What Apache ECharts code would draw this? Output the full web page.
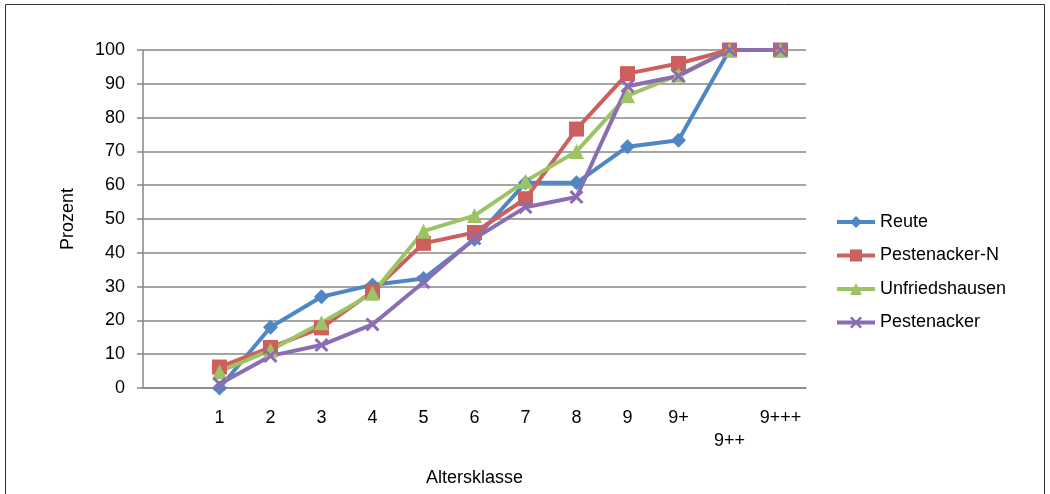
<!DOCTYPE html>
<html><head><meta charset="utf-8">
<script src="https://cdn.jsdelivr.net/npm/echarts@6/dist/echarts.min.js"></script>
<style>html,body{margin:0;padding:0;background:#fff}#c{width:1050px;height:494px}</style>
</head><body><div id="c"></div>
<script>
const categories = ["", "1", "2", "3", "4", "5", "6", "7", "8", "9", "9+", "9++", "9+++"];
const reute = [null, 0, 18, 27, 30.5, 32.4, 44, 60.7, 60.7, 71.4, 73.3, 100, 100];
const pestenackerN = [null, 6.2, 12, 17.8, 28.5, 42.8, 46, 56, 76.6, 93, 96, 100, 100];
const unfriedshausen = [null, 4.8, 11.2, 19.3, 28, 46.4, 51, 61.2, 70, 86.5, 92.6, 100, 100];
const pestenacker = [null, 1.2, 9.5, 12.7, 18.8, 31.3, 44.2, 53.5, 56.5, 89.3, 92.3, 100, 100];
const yTicks = [0, 10, 20, 30, 40, 50, 60, 70, 80, 90, 100];

const font = "Liberation Sans, Arial, sans-serif";
const FS = 18;
const xMark = 'path://M0,1.5L1.5,0L5,3.5L8.5,0L10,1.5L6.5,5L10,8.5L8.5,10L5,6.5L1.5,10L0,8.5L3.5,5Z';
function mk(name, data, color, symbol, size) {
  return {
    name, type: 'line', data, symbol, symbolSize: size, showAllSymbol: true,
    connectNulls: false,
    lineStyle: { color, width: 4 },
    itemStyle: { color },
    emphasis: { disabled: true }, animation: false
  };
}
const chart = echarts.init(document.getElementById('c'), null, { renderer: 'canvas' });
chart.setOption({
  animation: false,
  textStyle: { fontFamily: font },
  graphic: [{ type: 'rect', shape: { x: 5.5, y: 4.5, width: 1039, height: 495 }, style: { fill: 'none', stroke: '#333', lineWidth: 1 } }],
  grid: { left: 143, right: 244, top: 50, bottom: 106 },
  xAxis: {
    type: 'category', data: categories, boundaryGap: true,
    name: 'Altersklasse', nameLocation: 'middle', nameGap: 81,
    nameTextStyle: { fontSize: FS, color: '#000', fontFamily: font },
    axisLine: { lineStyle: { color: '#878787', width: 1.5 } },
    axisTick: { show: false },
    axisLabel: { interval: 0, margin: 19, fontSize: FS, color: '#000', fontFamily: font, lineHeight: 23,
      formatter: v => v === '9++' ? '\n' + v : v },
    splitLine: { show: false }
  },
  yAxis: {
    type: 'value', min: yTicks[0], max: yTicks[yTicks.length - 1], interval: 10,
    name: 'Prozent', nameLocation: 'middle', nameGap: 66, nameRotate: 90,
    nameTextStyle: { fontSize: FS, color: '#000', fontFamily: font },
    axisLine: { show: true, lineStyle: { color: '#878787', width: 1.5 } },
    axisTick: { show: true, length: 6, lineStyle: { color: '#878787', width: 1.5 } },
    axisLabel: { margin: 18, fontSize: FS, color: '#000', fontFamily: font },
    splitLine: { lineStyle: { color: '#878787', width: 1.5 } }
  },
  legend: {
    orient: 'vertical', left: 835, top: 213, padding: 0, itemGap: 15.5, itemWidth: 38, itemHeight: 15,
    lineStyle: { width: 4 },
    textStyle: { fontSize: FS, color: '#000', fontFamily: font },
    data: ['Reute', 'Pestenacker-N', 'Unfriedshausen', 'Pestenacker']
  },
  series: [
    mk('Reute', reute, '#4F86C6', 'diamond', 15),
    mk('Pestenacker-N', pestenackerN, '#CD5F5C', 'rect', 15),
    mk('Unfriedshausen', unfriedshausen, '#9CC467', 'triangle', 15),
    mk('Pestenacker', pestenacker, '#8B6DB1', xMark, 14)
  ]
});
</script></body></html>
